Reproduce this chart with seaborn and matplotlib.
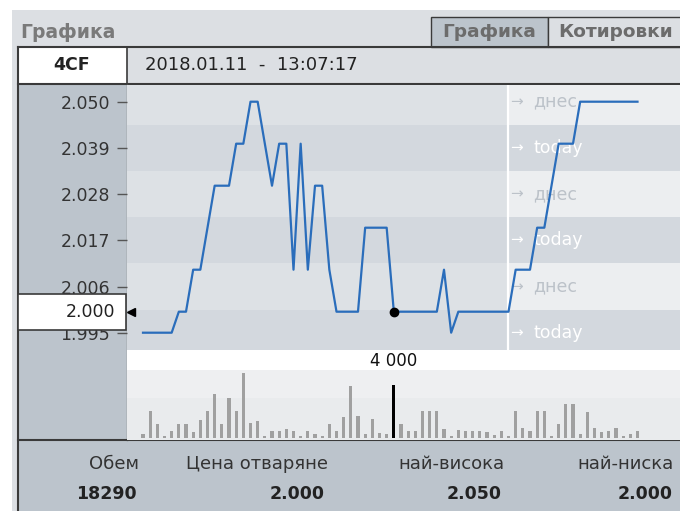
import numpy as np
import pandas as pd
import matplotlib
matplotlib.use("Agg")
import matplotlib.pyplot as plt
from matplotlib.patches import Rectangle
import seaborn as sns

# Price per trade slot
prices = [1.995, 1.995, 1.995, 1.995, 1.995, 2.000, 2.000, 2.010, 2.010, 2.020,
          2.030, 2.030, 2.030, 2.040, 2.040, 2.050, 2.050, 2.040, 2.030, 2.040,
          2.040, 2.010, 2.040, 2.010, 2.030, 2.030, 2.010, 2.000, 2.000, 2.000,
          2.000, 2.020, 2.020, 2.020, 2.020, 2.000, 2.000, 2.000, 2.000, 2.000,
          2.000, 2.000, 2.010, 1.995, 2.000, 2.000, 2.000, 2.000, 2.000, 2.000,
          2.000, 2.000, 2.010, 2.010, 2.010, 2.020, 2.020, 2.030, 2.040, 2.040,
          2.040, 2.050, 2.050, 2.050, 2.050, 2.050, 2.050, 2.050, 2.050, 2.050]

# Volume per trade slot
volumes = [280, 2030, 990, 100, 530, 1040, 990, 400, 1340, 2030,
           3290, 1040, 2990, 2030, 4900, 1090, 1220, 150, 530, 530,
           660, 530, 150, 530, 280, 150, 1040, 530, 1550, 3950,
           1670, 280, 1370, 330, 250, 4000, 1040, 530, 530, 2030,
           2030, 2030, 610, 150, 580, 530, 480, 480, 400, 200,
           480, 150, 2030, 710, 460, 2030, 2030, 100, 1040, 2510,
           2510, 280, 1930, 710, 400, 530, 710, 150, 280, 460]

tick_values = [2.050, 2.039, 2.028, 2.017, 2.006, 1.995]
tick_labels = ["2.050", "2.039", "2.028", "2.017", "2.006", "1.995"]
day_labels = ["днес", "today"]

selected = 35          # slot under the cursor
today_start = 51       # slot where the "today" zone begins
selected_price = "2.000"
selected_volume = "4 000"

symbol = "4CF"
timestamp = "2018.01.11  -  13:07:17"
tabs = ["Графика", "Котировки"]
summary_labels = ["Обем", "Цена отваряне", "най-висока", "най-ниска"]
summary_values = ["18290", "2.000", "2.050", "2.000"]

df = pd.DataFrame({"slot": np.arange(len(prices)), "price": prices, "volume": volumes})

# colours
frame_bg = "#dcdfe3"
panel_bg = "#bcc4cc"
dark = "#3a3a3a"
stripe_a = "#dde1e5"
stripe_b = "#d3d8de"
stripe_light = "#eceef0"
line_blue = "#2a6dbb"
bar_grey = "#a0a0a0"

W, H = 680, 511
fig = plt.figure(figsize=(W / 100, H / 100), dpi=100)
fig.patch.set_facecolor("white")


def px_axes(left, top, width, height, **kw):
    return fig.add_axes([left / W, 1 - (top + height) / H, width / W, height / H], **kw)


# ---- static frame drawn in pixel coordinates
bg = px_axes(0, 0, W, H, zorder=0)
bg.set_xlim(0, W)
bg.set_ylim(H, 0)
bg.axis("off")

def rect(x0, y0, x1, y1, fc, ec="none", lw=0):
    bg.add_patch(Rectangle((x0, y0), x1 - x0, y1 - y0, facecolor=fc, edgecolor=ec, linewidth=lw))

rect(12, 10, W, H, frame_bg)
bg.text(20, 32, "Графика", ha="left", va="center", fontsize=13.5, fontweight="bold", color="#7a7a7a")

# tabs
rect(431, 17, 548, 47, panel_bg, dark, 1)
rect(548, 17, 690, 47, frame_bg, dark, 1)
bg.text(489, 32, tabs[0], ha="center", va="center", fontsize=13.3, fontweight="bold", color="#6c6c6c")
bg.text(616, 32, tabs[1], ha="center", va="center", fontsize=13.3, fontweight="bold", color="#6c6c6c")

# symbol / time row
rect(18, 47, 127, 84, "white", dark, 1.2)
bg.text(72, 65, symbol, ha="center", va="center", fontsize=12.5, fontweight="bold", color="#222222")
bg.text(145, 65, timestamp, ha="left", va="center", fontsize=13, color="#222222")
bg.plot([18, W], [47, 47], color=dark, lw=1.5)
bg.plot([18, W], [84, 84], color=dark, lw=1.5)

# left scale panel and bottom summary panel
rect(18, 85, 127, 440, panel_bg)
rect(18, 440, W, H, panel_bg)
bg.plot([127, 127], [85, 440], color="#7d7d7d", lw=1)
bg.plot([18, 18], [47, H], color=dark, lw=1.5)
bg.plot([18, W], [440, 440], color=dark, lw=1.5)

label_right = [139, 328, 504, 674]
value_right = [137, 325, 502, 673]
for lab, val, xl, xv in zip(summary_labels, summary_values, label_right, value_right):
    bg.text(xl, 464, lab, ha="right", va="center", fontsize=13, color="#333333")
    bg.text(xv, 494, val, ha="right", va="center", fontsize=12.5, fontweight="bold", color="#222222")

# ---- x scale shared by the price and volume panels
first_px, last_px = 143, 637.5
step = (last_px - first_px) / (len(prices) - 1)
xlo = -(first_px - 127) / step
xhi = (W - first_px) / step

# ---- price panel
ax = px_axes(127, 85, W - 127, 265, zorder=1)
px_per_unit = 4200.0
y_top = 2.000 + (311.7 - 85) / px_per_unit
y_bot = 2.000 - (350 - 311.7) / px_per_unit

for i, t in enumerate(tick_values):
    lo, hi = t - 0.0055, t + 0.0055
    left_c = stripe_a if i % 2 == 0 else stripe_b
    right_c = stripe_light if i % 2 == 0 else stripe_b
    ax.fill_between([xlo, today_start], lo, hi, color=left_c, lw=0, zorder=0)
    ax.fill_between([today_start, xhi], lo, hi, color=right_c, lw=0, zorder=0)
    word_c = "#bcc2c9" if i % 2 == 0 else "white"
    ax.text(today_start + 2 / step, t, "→", ha="left", va="center", fontsize=11, color=word_c, zorder=1)
    ax.text(today_start + 25 / step, t, day_labels[i % 2], ha="left", va="center",
            fontsize=12.5, color=word_c, zorder=1)

ax.axvline(today_start, color="white", lw=1.6, zorder=1)
sns.lineplot(data=df, x="slot", y="price", ax=ax, color=line_blue, linewidth=1.6, zorder=3)
ax.plot(selected, prices[selected], "o", color="black", markersize=6, zorder=4)

ax.set_xlim(xlo, xhi)
ax.set_ylim(y_bot, y_top)
ax.set_xticks([])
ax.set_yticks(tick_values)
ax.set_yticklabels(tick_labels)
ax.tick_params(axis="y", length=7, width=1, color="#555555", pad=5, labelsize=12.5, labelcolor="#333333")
ax.set_xlabel("")
ax.set_ylabel("")
for s in ax.spines.values():
    s.set_visible(False)

# ---- volume panel
axv = px_axes(127, 350, W - 127, 90, zorder=1)
vol_per_px = 4000 / 52.6
v_bot = -(440 - 437.5) * vol_per_px
v_top = (437.5 - 350) * vol_per_px
axv.set_facecolor("#e9ebed")
axv.axhspan((437.5 - 398) * vol_per_px, (437.5 - 370) * vol_per_px, color="#eeeff1", lw=0, zorder=0)
axv.axhspan((437.5 - 370) * vol_per_px, v_top + 100, color="white", lw=0, zorder=0)
sns.barplot(data=df, x="slot", y="volume", native_scale=True, width=0.42, color=bar_grey,
            saturation=1, errorbar=None, ax=axv, zorder=2)
axv.patches[-len(volumes) + selected].set_facecolor("black")
axv.text(selected, 0.878, selected_volume, transform=axv.get_xaxis_transform(),
         ha="center", va="center", fontsize=12, color="#111111")
axv.set_xlim(xlo, xhi)
axv.set_ylim(v_bot, v_top)
axv.set_xticks([])
axv.set_yticks([])
axv.set_xlabel("")
axv.set_ylabel("")
for s in axv.spines.values():
    s.set_visible(False)

# ---- cursor price box over the scale
top = px_axes(0, 0, W, H, zorder=3)
top.set_xlim(0, W)
top.set_ylim(H, 0)
top.axis("off")
top.add_patch(Rectangle((18, 294), 108, 36, facecolor="white", edgecolor=dark, linewidth=1.2))
top.text(115, 312, selected_price, ha="right", va="center", fontsize=12.5, color="#222222")
top.plot(131, 312, marker="<", color="black", markersize=6)

fig.savefig("out.png", dpi=100)
